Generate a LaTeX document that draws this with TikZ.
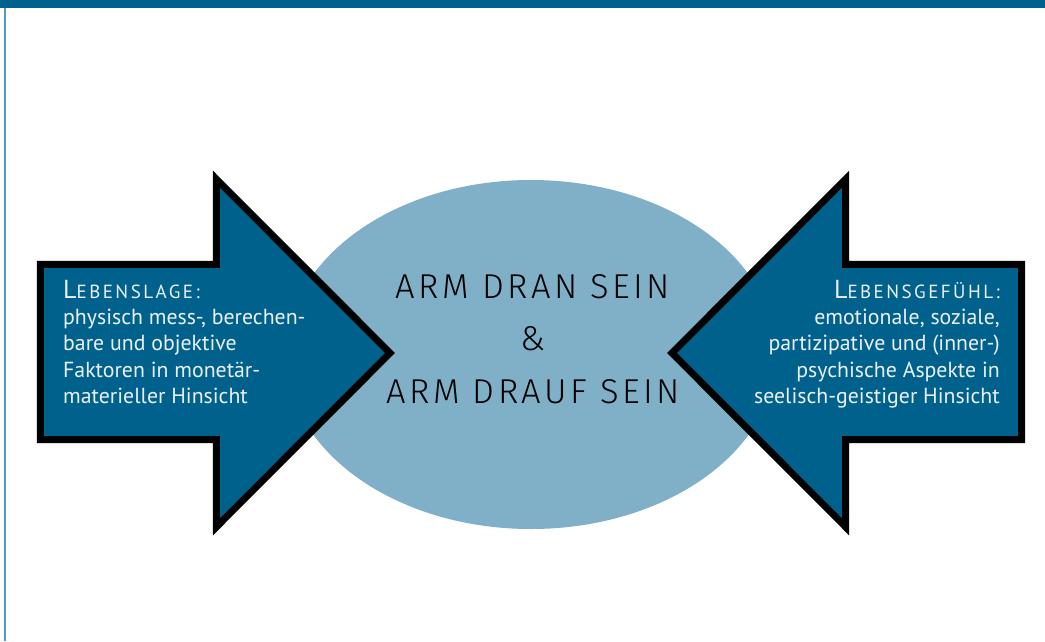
\documentclass[tikz,border=0pt]{standalone}
\usepackage{fontspec}
\usetikzlibrary{shapes.geometric}
\setmainfont{PT Sans}
\newfontfamily\centerfont[LetterSpace=10]{Fira Sans Light}
\newfontfamily\scfont[LetterSpace=13]{PT Sans}
\definecolor{arrowblue}{RGB}{0,98,140}
\definecolor{ellblue}{RGB}{128,175,200}
\definecolor{edgeblue}{RGB}{80,155,195}
\definecolor{txtwhite}{RGB}{235,240,245}
\tikzset{
  bigarrow/.style={fill=arrowblue, draw=black, line width=7pt, miter limit=10, line join=miter},
  arrowtext/.style={text=txtwhite, inner sep=0pt, font=\fontsize{21.8}{26.3}\selectfont},
  centertext/.style={inner sep=0pt, anchor=base, font=\centerfont\fontsize{34.5}{40}\selectfont}
}
\newcommand{\fakesc}[2]{{\scfont\fontsize{26}{26.3}\selectfont #1}{\scfont\fontsize{19}{26.3}\selectfont #2}}
\begin{document}
\begin{tikzpicture}[x=1pt,y=-1pt]
\useasboundingbox (0,0) rectangle (1045,641);
\fill[white] (0,0) rectangle (1045,641);
\fill[arrowblue] (0,0) rectangle (1045,7.5);
\draw[edgeblue, line width=1.6pt] (4.8,7.5) -- (4.8,641);
% ellipse
\node[ellipse, fill=ellblue, minimum width=490pt, minimum height=349pt, inner sep=0pt] (ell) at (531,354.5) {};
% arrows
\draw[bigarrow] (40.3,264.3) -- (216.3,264.3) -- (216.3,179) -- (390,353) -- (216.3,527) -- (216.3,439.5) -- (40.3,439.5) -- cycle;
\draw[bigarrow] (1021.7,264.3) -- (845.7,264.3) -- (845.7,179) -- (672,353) -- (845.7,527) -- (845.7,439.5) -- (1021.7,439.5) -- cycle;
% left text
\node[arrowtext, anchor=base west] (lt1) at (63,298) {\fakesc{L}{EBENSLAGE:}};
\node[arrowtext, anchor=base west] (lt2) at (63,324.5) {physisch mess-, berechen-};
\node[arrowtext, anchor=base west] (lt3) at (63,350.8) {bare und objektive};
\node[arrowtext, anchor=base west] (lt4) at (63,377.1) {Faktoren in monetär-};
\node[arrowtext, anchor=base west] (lt5) at (63,403.4) {materieller Hinsicht};
% right text
\node[arrowtext, anchor=base east] (rt1) at (1000,298) {\fakesc{L}{EBENSGEFÜHL:}};
\node[arrowtext, anchor=base east] (rt2) at (1000,324.5) {emotionale, soziale,};
\node[arrowtext, anchor=base east] (rt3) at (1000,350.8) {partizipative und (inner-)};
\node[arrowtext, anchor=base east] (rt4) at (1000,377.1) {psychische Aspekte in};
\node[arrowtext, anchor=base east] (rt5) at (1000,403.4) {seelisch-geistiger Hinsicht};
% center text
\node[centertext] (c1) at (533,298) {ARM DRAN SEIN};
\node[centertext] (c2) at (533,350) {\&};
\node[centertext] (c3) at (533,403) {ARM DRAUF SEIN};
\end{tikzpicture}
\end{document}
